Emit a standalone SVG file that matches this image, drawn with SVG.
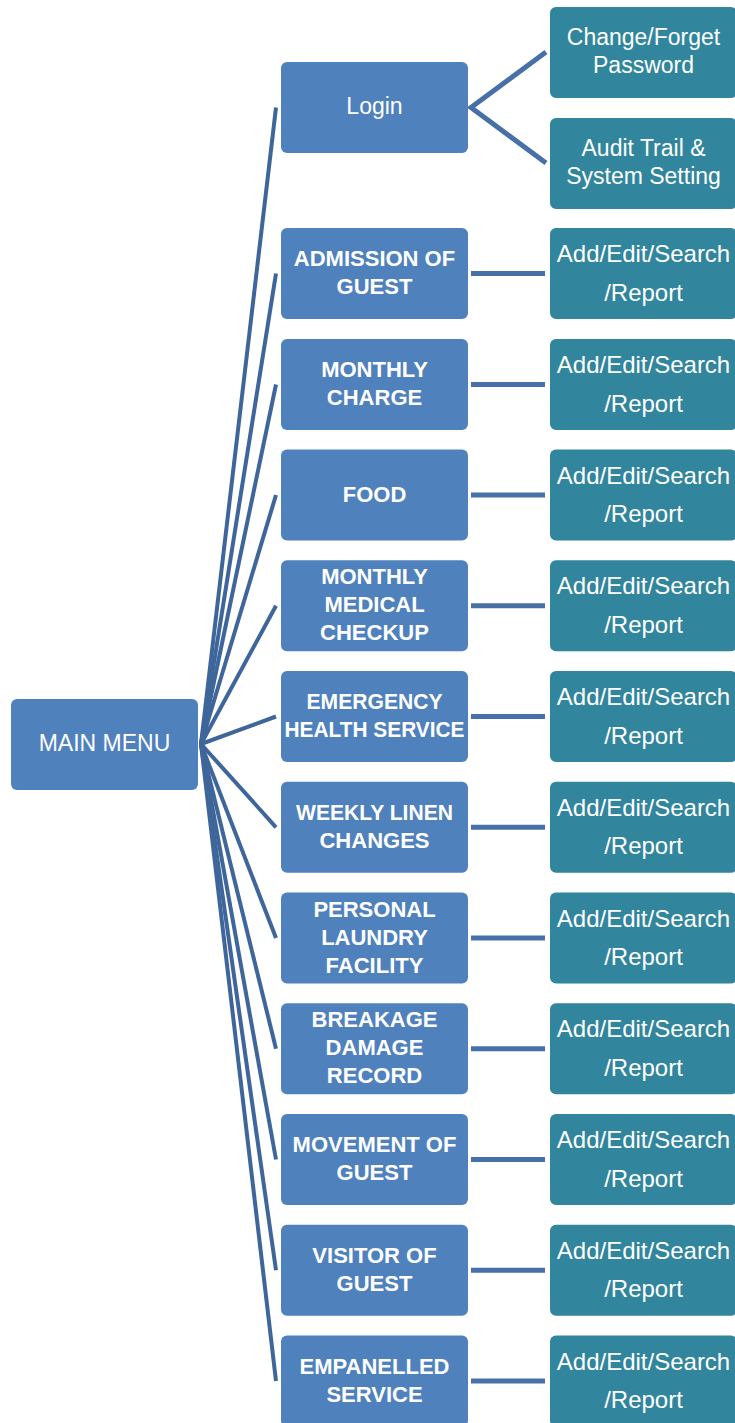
<svg xmlns="http://www.w3.org/2000/svg" width="735" height="1423" viewBox="0 0 735 1423">
<style>
.b{fill:#4F81BD;}
.t{fill:#31859C;}
.sp{stroke:#3E669B;stroke-width:4;fill:none;}
.hz{stroke:#4770A8;stroke-width:5;fill:none;}
text{fill:#FFFFFF;text-anchor:middle;font-family:"Liberation Sans",Arial,sans-serif;}
.bd{font-weight:bold;font-size:22px;}
.rg{font-size:24px;}
.lg{font-size:23px;}
</style>
<rect width="735" height="1423" fill="#FFFFFF"/>
<g id="connectors">
<line class="sp" x1="201" y1="744" x2="276" y2="107.5"/>
<line class="sp" x1="201" y1="744" x2="276" y2="273.5"/>
<line class="sp" x1="201" y1="744" x2="276" y2="384.5"/>
<line class="sp" x1="201" y1="744" x2="276" y2="495"/>
<line class="sp" x1="201" y1="744" x2="276" y2="605.8"/>
<line class="sp" x1="201" y1="744" x2="276" y2="716.5"/>
<line class="sp" x1="201" y1="744" x2="276" y2="827.3"/>
<line class="sp" x1="201" y1="744" x2="276" y2="938"/>
<line class="sp" x1="201" y1="744" x2="276" y2="1048.8"/>
<line class="sp" x1="201" y1="744" x2="276" y2="1159.5"/>
<line class="sp" x1="201" y1="744" x2="276" y2="1270.3"/>
<line class="sp" x1="201" y1="744" x2="276" y2="1381"/>
<polyline class="hz" points="546,52 471,107.5 546,163"/>
<line class="hz" x1="471" y1="273.5" x2="545" y2="273.5"/>
<line class="hz" x1="471" y1="384.5" x2="545" y2="384.5"/>
<line class="hz" x1="471" y1="495" x2="545" y2="495"/>
<line class="hz" x1="471" y1="605.8" x2="545" y2="605.8"/>
<line class="hz" x1="471" y1="716.5" x2="545" y2="716.5"/>
<line class="hz" x1="471" y1="827.3" x2="545" y2="827.3"/>
<line class="hz" x1="471" y1="938" x2="545" y2="938"/>
<line class="hz" x1="471" y1="1048.8" x2="545" y2="1048.8"/>
<line class="hz" x1="471" y1="1159.5" x2="545" y2="1159.5"/>
<line class="hz" x1="471" y1="1270.3" x2="545" y2="1270.3"/>
<line class="hz" x1="471" y1="1381" x2="545" y2="1381"/>
</g>
<g id="main-menu"><rect class="b" x="11" y="699" width="187" height="91" rx="6"/><text class="lg" x="104.5" y="751">MAIN MENU</text></g>
<g id="login"><rect class="b" x="281" y="62" width="187" height="91" rx="6"/><text class="lg" x="374.5" y="114">Login</text></g>
<g id="change-password"><rect class="t" x="550" y="7" width="187" height="91" rx="6"/><text class="lg" x="643.5" y="45">Change/Forget</text><text class="lg" x="643.5" y="73">Password</text></g>
<g id="audit-trail"><rect class="t" x="550" y="118" width="187" height="91" rx="6"/><text class="lg" x="643.5" y="156">Audit Trail &amp;</text><text class="lg" x="643.5" y="184">System Setting</text></g>

<g id="admission"><rect class="b" x="281" y="228" width="187" height="91" rx="6"/><text class="bd" x="374.5" y="266">ADMISSION OF</text><text class="bd" x="374.5" y="294">GUEST</text></g>
<g id="admission-ops"><rect class="t" x="550" y="228" width="187" height="91" rx="6"/><text class="rg" x="643.5" y="262">Add/Edit/Search</text><text class="rg" x="643.5" y="300.5">/Report</text></g>

<g id="monthly-charge"><rect class="b" x="281" y="339" width="187" height="91" rx="6"/><text class="bd" x="374.5" y="377">MONTHLY</text><text class="bd" x="374.5" y="405">CHARGE</text></g>
<g id="monthly-charge-ops"><rect class="t" x="550" y="339" width="187" height="91" rx="6"/><text class="rg" x="643.5" y="373">Add/Edit/Search</text><text class="rg" x="643.5" y="411.5">/Report</text></g>

<g id="food"><rect class="b" x="281" y="449.5" width="187" height="91" rx="6"/><text class="bd" x="374.5" y="502">FOOD</text></g>
<g id="food-ops"><rect class="t" x="550" y="449.5" width="187" height="91" rx="6"/><text class="rg" x="643.5" y="483.5">Add/Edit/Search</text><text class="rg" x="643.5" y="522">/Report</text></g>

<g id="medical-checkup"><rect class="b" x="281" y="560.3" width="187" height="91" rx="6"/><text class="bd" x="374.5" y="584.3">MONTHLY</text><text class="bd" x="374.5" y="612.3">MEDICAL</text><text class="bd" x="374.5" y="640.3">CHECKUP</text></g>
<g id="medical-checkup-ops"><rect class="t" x="550" y="560.3" width="187" height="91" rx="6"/><text class="rg" x="643.5" y="594.3">Add/Edit/Search</text><text class="rg" x="643.5" y="632.8">/Report</text></g>

<g id="emergency"><rect class="b" x="281" y="671" width="187" height="91" rx="6"/><text class="bd" x="374.5" y="709" textLength="136" lengthAdjust="spacingAndGlyphs">EMERGENCY</text><text class="bd" x="374.5" y="737" textLength="180" lengthAdjust="spacingAndGlyphs">HEALTH SERVICE</text></g>
<g id="emergency-ops"><rect class="t" x="550" y="671" width="187" height="91" rx="6"/><text class="rg" x="643.5" y="705">Add/Edit/Search</text><text class="rg" x="643.5" y="743.5">/Report</text></g>

<g id="linen"><rect class="b" x="281" y="781.8" width="187" height="91" rx="6"/><text class="bd" x="374.5" y="819.8" textLength="157" lengthAdjust="spacingAndGlyphs">WEEKLY LINEN</text><text class="bd" x="374.5" y="847.8">CHANGES</text></g>
<g id="linen-ops"><rect class="t" x="550" y="781.8" width="187" height="91" rx="6"/><text class="rg" x="643.5" y="815.8">Add/Edit/Search</text><text class="rg" x="643.5" y="854.3">/Report</text></g>

<g id="laundry"><rect class="b" x="281" y="892.5" width="187" height="91" rx="6"/><text class="bd" x="374.5" y="916.5">PERSONAL</text><text class="bd" x="374.5" y="944.5">LAUNDRY</text><text class="bd" x="374.5" y="972.5">FACILITY</text></g>
<g id="laundry-ops"><rect class="t" x="550" y="892.5" width="187" height="91" rx="6"/><text class="rg" x="643.5" y="926.5">Add/Edit/Search</text><text class="rg" x="643.5" y="965">/Report</text></g>

<g id="breakage"><rect class="b" x="281" y="1003.3" width="187" height="91" rx="6"/><text class="bd" x="374.5" y="1027.3">BREAKAGE</text><text class="bd" x="374.5" y="1055.3">DAMAGE</text><text class="bd" x="374.5" y="1083.3">RECORD</text></g>
<g id="breakage-ops"><rect class="t" x="550" y="1003.3" width="187" height="91" rx="6"/><text class="rg" x="643.5" y="1037.3">Add/Edit/Search</text><text class="rg" x="643.5" y="1075.8">/Report</text></g>

<g id="movement"><rect class="b" x="281" y="1114" width="187" height="91" rx="6"/><text class="bd" x="374.5" y="1152">MOVEMENT OF</text><text class="bd" x="374.5" y="1180">GUEST</text></g>
<g id="movement-ops"><rect class="t" x="550" y="1114" width="187" height="91" rx="6"/><text class="rg" x="643.5" y="1148">Add/Edit/Search</text><text class="rg" x="643.5" y="1186.5">/Report</text></g>

<g id="visitor"><rect class="b" x="281" y="1224.8" width="187" height="91" rx="6"/><text class="bd" x="374.5" y="1262.8">VISITOR OF</text><text class="bd" x="374.5" y="1290.8">GUEST</text></g>
<g id="visitor-ops"><rect class="t" x="550" y="1224.8" width="187" height="91" rx="6"/><text class="rg" x="643.5" y="1258.8">Add/Edit/Search</text><text class="rg" x="643.5" y="1297.3">/Report</text></g>

<g id="empanelled"><rect class="b" x="281" y="1335.5" width="187" height="91" rx="6"/><text class="bd" x="374.5" y="1373.5">EMPANELLED</text><text class="bd" x="374.5" y="1401.5">SERVICE</text></g>
<g id="empanelled-ops"><rect class="t" x="550" y="1335.5" width="187" height="91" rx="6"/><text class="rg" x="643.5" y="1369.5">Add/Edit/Search</text><text class="rg" x="643.5" y="1408">/Report</text></g>
</svg>
